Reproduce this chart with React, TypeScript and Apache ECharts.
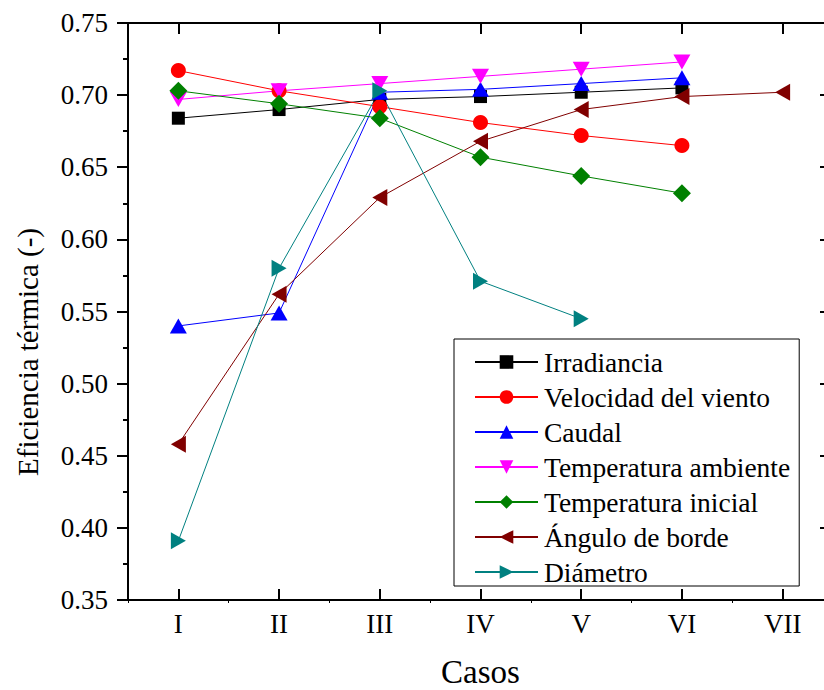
import React, { useEffect, useRef } from "react";
import * as echarts from "echarts";

const categories = ["I", "II", "III", "IV", "V", "VI", "VII"];
const yTicks = [0.35, 0.4, 0.45, 0.5, 0.55, 0.6, 0.65, 0.7, 0.75];

const irradiancia = [0.684, 0.69, 0.697, 0.699, 0.702, 0.705, null];
const velocidadViento = [0.717, 0.703, 0.692, 0.681, 0.672, 0.665, null];
const caudal = [0.54, 0.549, 0.702, 0.704, 0.708, 0.712, null];
const tempAmbiente = [0.697, 0.703, 0.708, 0.713, 0.718, 0.723, null];
const tempInicial = [0.703, 0.694, 0.684, 0.657, 0.644, 0.632, null];
const anguloBorde = [0.458, 0.562, 0.629, 0.668, 0.69, 0.699, 0.702];
const diametro = [0.391, 0.58, 0.703, 0.571, 0.545, null, null];

const FONT = "'Liberation Serif', 'Times New Roman', serif";

export default function App() {
  const ref = useRef<HTMLDivElement>(null);
  useEffect(() => {
    if (!ref.current) return;
    const chart = echarts.init(ref.current, null, { renderer: "svg" });
    const mk = (
      name: string,
      data: (number | null)[],
      color: string,
      symbol: string,
      size: number | number[],
      rotate = 0
    ) => ({
      name,
      type: "line",
      data,
      xAxisIndex: 0,
      yAxisIndex: 0,
      symbol,
      symbolSize: size,
      symbolRotate: rotate,
      showAllSymbol: true,
      lineStyle: { color, width: 1 },
      itemStyle: { color },
      connectNulls: false,
    });
    const axisLine = { show: true, lineStyle: { color: "#000", width: 2 } };
    chart.setOption({
      animation: false,
      backgroundColor: "#fff",
      grid: {
        left: 128,
        top: 23,
        width: 705,
        height: 577,
        containLabel: false,
        outerBoundsMode: "none",
      },
      xAxis: [
        {
          type: "category",
          data: categories,
          position: "bottom",
          boundaryGap: true,
          axisLine,
          axisTick: { show: true, alignWithLabel: true, inside: true, length: 11, lineStyle: { color: "#000", width: 2 } },
          axisLabel: { fontFamily: FONT, fontSize: 27, color: "#000", margin: 10 },
          splitLine: { show: false },
          name: "Casos",
          nameLocation: "middle",
          nameGap: 60,
          nameTextStyle: { fontFamily: FONT, fontSize: 33, color: "#000", lineHeight: 24 },
        },
        {
          type: "category",
          data: categories,
          position: "top",
          boundaryGap: true,
          axisLine,
          axisTick: { show: true, alignWithLabel: true, inside: true, length: 11, lineStyle: { color: "#000", width: 2 } },
          axisLabel: { show: false },
          splitLine: { show: false },
        },
        {
          type: "category",
          data: categories,
          position: "bottom",
          boundaryGap: true,
          axisLine: { show: false },
          axisTick: { show: true, alignWithLabel: false, inside: false, length: 3, lineStyle: { color: "#000", width: 1 } },
          axisLabel: { show: false },
          splitLine: { show: false },
        },
      ],
      yAxis: [
        {
          type: "value",
          min: yTicks[0],
          max: yTicks[yTicks.length - 1],
          interval: 0.05,
          position: "left",
          axisLine,
          axisTick: { show: true, inside: false, length: 11, lineStyle: { color: "#000", width: 2 } },
          minorTick: { show: true, splitNumber: 2, length: 5, lineStyle: { color: "#000", width: 2 } },
          axisLabel: {
            fontFamily: FONT,
            fontSize: 27,
            color: "#000",
            margin: 20,
            formatter: (v: number) => v.toFixed(2),
          },
          splitLine: { show: false },
        },
        {
          type: "value",
          min: yTicks[0],
          max: yTicks[yTicks.length - 1],
          interval: 0.05,
          position: "right",
          axisLine,
          axisTick: { show: true, inside: true, length: 13, lineStyle: { color: "#000", width: 2 } },
          axisLabel: { show: false },
          splitLine: { show: false },
        },
      ],
      graphic: [
        {
          type: "text",
          x: 28,
          y: 352,
          rotation: Math.PI / 2,
          style: {
            text: "Eficiencia térmica (-)",
            fontFamily: FONT,
            fontSize: 29,
            fill: "#000",
            textAlign: "center",
            textVerticalAlign: "middle",
          },
        },
      ],
      legend: {
        orient: "vertical",
        left: 454,
        top: 339,
        itemWidth: 63,
        itemHeight: 17,
        itemGap: 7,
        padding: [9, 9, 0, 20],
        borderColor: "#000",
        borderWidth: 1,
        backgroundColor: "#fff",
        textStyle: { fontFamily: FONT, fontSize: 27.5, color: "#000", lineHeight: 27, height: 27, padding: [0, 0, 0, 1] },
        data: [
          "Irradiancia",
          "Velocidad del viento",
          "Caudal",
          "Temperatura ambiente",
          "Temperatura inicial",
          "Ángulo de borde",
          "Diámetro",
        ],
      },
      series: [
        mk("Irradiancia", irradiancia, "#000000", "rect", 13),
        mk("Velocidad del viento", velocidadViento, "#ff0000", "circle", 15),
        mk("Caudal", caudal, "#0000ff", "triangle", [17, 15]),
        mk("Temperatura ambiente", tempAmbiente, "#ff00ff", "triangle", [17, 15], 180),
        mk("Temperatura inicial", tempInicial, "#008000", "diamond", 18),
        mk("Ángulo de borde", anguloBorde, "#800000", "triangle", [17, 15], 90),
        mk("Diámetro", diametro, "#008080", "triangle", [17, 15], -90),
      ],
    });
    return () => chart.dispose();
  }, []);
  return (
    <div
      ref={ref}
      style={{ position: "fixed", left: 0, top: 0, width: 824, height: 690, background: "#fff" }}
    />
  );
}
